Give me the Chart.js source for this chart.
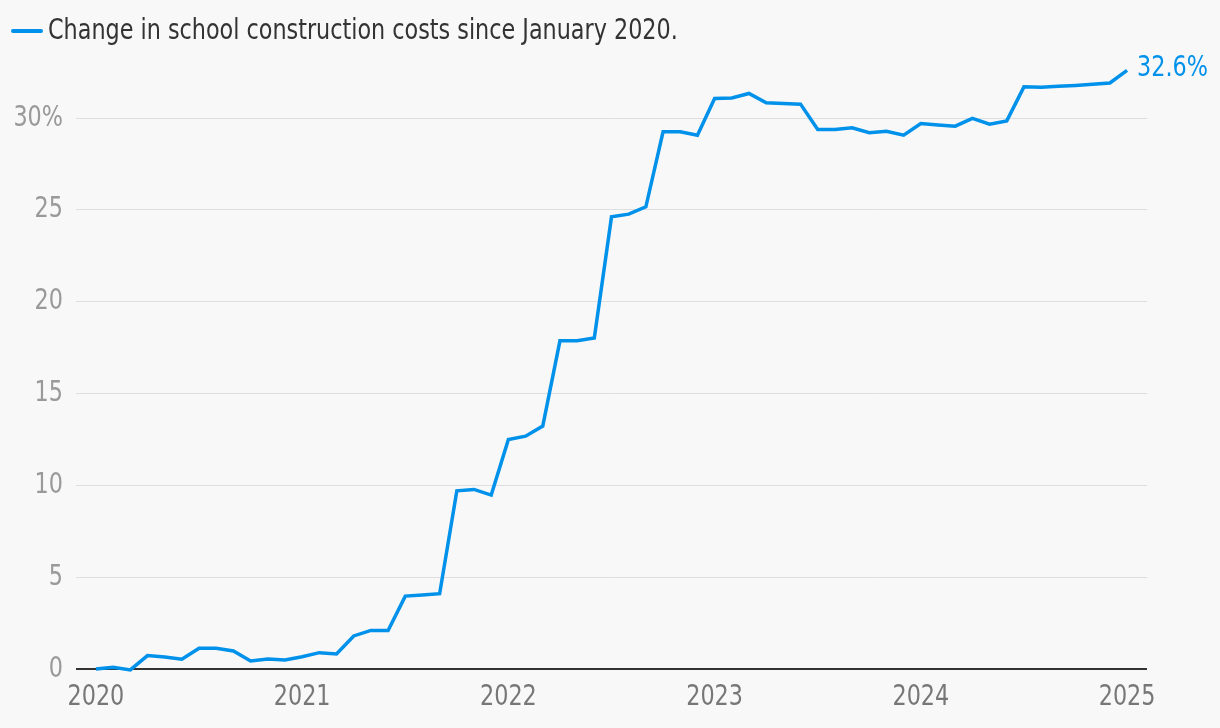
<!DOCTYPE html>
<html lang="en">
<head>
  <meta charset="UTF-8" />
  <title>School construction costs</title>
  <style>
    html, body { margin: 0; padding: 0; background: #f8f8f8; }
    #wrap { width: 1220px; height: 728px; position: relative; }
  </style>
</head>
<body>
  <div id="wrap"><canvas id="grafico"></canvas></div>

  <script src="https://cdn.jsdelivr.net/npm/chart.js"></script>
  <script>
    // Monthly change since January 2020 (%), Jan 2020 .. Jan 2025
    const startYear = 2020;
    const yearTicks = [2020, 2021, 2022, 2023, 2024, 2025];
    const valueTicks = [0, 5, 10, 15, 20, 25, 30];
    const seriesLabel = 'Change in school construction costs since January 2020.';
    const change = [
      0.0, 0.1, -0.05, 0.73, 0.65, 0.53, 1.13, 1.13, 0.98, 0.44, 0.54, 0.49,
      0.67, 0.89, 0.82, 1.8, 2.1, 2.1, 3.97, 4.03, 4.1, 9.7, 9.78, 9.47,
      12.5, 12.68, 13.23, 17.87, 17.87, 18.03, 24.62, 24.77, 25.17, 29.25, 29.25, 29.07,
      31.07, 31.1, 31.34, 30.83, 30.8, 30.76, 29.38, 29.38, 29.47, 29.2, 29.28, 29.07,
      29.7, 29.63, 29.56, 29.98, 29.67, 29.85, 31.7, 31.68, 31.73, 31.78, 31.84, 31.91,
      32.6
    ];

    const blue = '#0091ea';
    const font = '"DejaVu Sans Condensed", sans-serif';
    const squish = 0.855; // no narrow font installed, so condense the text a bit

    function texte(c, txt, x, y, align, color) {
      c.save();
      c.translate(x, y);
      c.scale(squish, 1);
      c.font = '29px ' + font;
      c.textBaseline = 'middle';
      c.textAlign = align;
      c.fillStyle = color;
      c.fillText(txt, 0, 0);
      c.restore();
    }

    const extras = {
      id: 'extras',
      beforeDraw(chart) {
        const c = chart.ctx;
        c.save();
        c.fillStyle = '#f8f8f8';
        c.fillRect(0, 0, chart.width, chart.height);
        // legend
        c.strokeStyle = blue;
        c.lineWidth = 4;
        c.lineCap = 'round';
        c.beginPath();
        c.moveTo(13, 31);
        c.lineTo(41, 31);
        c.stroke();
        c.restore();
        texte(c, seriesLabel, 48, 31, 'left', '#333');
      },
      afterDraw(chart) {
        const c = chart.ctx;
        const x = chart.scales.x, y = chart.scales.y;
        x.ticks.forEach(t => texte(c, String(startYear + t.value / 12), x.getPixelForValue(t.value), 697, 'center', '#777'));
        y.ticks.forEach(t => texte(c, t.value === 30 ? '30%' : String(t.value), 63, y.getPixelForValue(t.value), 'right', '#999'));
        const meta = chart.getDatasetMeta(0);
        const last = meta.data[meta.data.length - 1];
        texte(c, change[change.length - 1].toFixed(1) + '%', last.x + 10, last.y - 2, 'left', blue);
      }
    };

    new Chart(document.getElementById('grafico'), {
      type: 'line',
      data: {
        datasets: [{
          label: seriesLabel,
          data: change.map((v, i) => ({ x: i, y: v })),
          borderColor: blue,
          borderWidth: 3.5,
          pointRadius: 0,
          tension: 0,
          fill: false,
          clip: false
        }]
      },
      options: {
        responsive: true,
        maintainAspectRatio: false,
        animation: false,
        layout: { padding: { top: 63, right: 73, left: 0, bottom: 0 } },
        plugins: { legend: { display: false }, tooltip: { enabled: false } },
        scales: {
          x: {
            type: 'linear',
            min: -1.16,
            max: 61.16,
            afterBuildTicks: s => { s.ticks = yearTicks.map(y => ({ value: (y - startYear) * 12 })); },
            afterFit: s => { s.height = 59; },
            grid: { display: false },
            border: { display: false },
            ticks: { display: false }
          },
          y: {
            min: 0,
            max: 33,
            afterBuildTicks: s => { s.ticks = valueTicks.map(v => ({ value: v })); },
            afterFit: s => { s.width = 76; },
            border: { display: false },
            grid: {
              drawTicks: false,
              color: c => c.tick.value === 0 ? '#333' : '#dedede',
              lineWidth: c => c.tick.value === 0 ? 2 : 1
            },
            ticks: { display: false }
          }
        }
      },
      plugins: [extras]
    });
  </script>
</body>
</html>
